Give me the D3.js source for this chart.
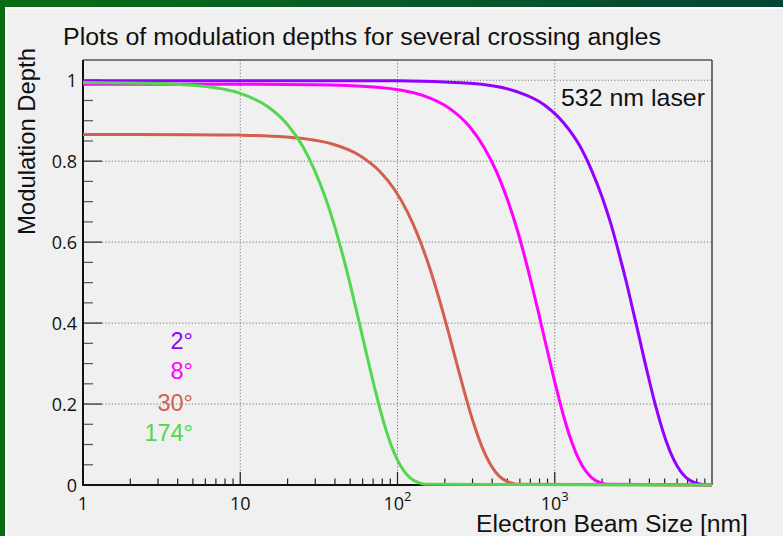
<!DOCTYPE html>
<html>
<head>
<meta charset="utf-8">
<script src="https://cdn.jsdelivr.net/npm/d3@7"></script>
<style>
  html, body { margin: 0; padding: 0; background: #ffffff; }
  svg { display: block; }
</style>
</head>
<body>
<svg id="chart" width="783" height="536"></svg>
<script>
// Modulation depth vs. electron beam size, one curve per crossing angle (532 nm laser)
const angleLabels = ["2°", "8°", "30°", "174°"];
const angleColors = ["#9400ff", "#ff00ff", "#d35f4f", "#55d64f"];

const sizes2 = [1, 100, 290, 570, 860, 1140, 1430, 1710, 2000, 2290, 2570, 2860, 3140, 3430, 3710, 4000, 4280, 4570, 5140, 5710, 6280, 6850, 7710, 8570, 10000];
const depth2 = [0.999, 0.999, 0.9925, 0.9721, 0.9389, 0.8945, 0.8404, 0.7787, 0.7117, 0.6413, 0.5701, 0.4997, 0.4320, 0.3684, 0.3097, 0.2569, 0.2101, 0.1695, 0.1057, 0.0625, 0.0349, 0.0185, 0.0064, 0.0020, 0];

const sizes8 = [1, 10, 30, 71, 143, 214, 286, 357, 429, 500, 572, 643, 714, 786, 857, 929, 1000, 1072, 1143, 1286, 1429, 1572, 1715, 1929, 2144, 10000];
const depth8 = [0.990, 0.990, 0.989, 0.9835, 0.9633, 0.9304, 0.8863, 0.8327, 0.7716, 0.7052, 0.6355, 0.5649, 0.4952, 0.4281, 0.3650, 0.3069, 0.2546, 0.2082, 0.1680, 0.1048, 0.0619, 0.0346, 0.0183, 0.0063, 0.0020, 0];

const sizes30 = [1, 5, 10, 19.3, 38.5, 57.8, 77.0, 96.3, 115.6, 134.8, 154.1, 173.3, 192.6, 211.9, 231.1, 250.4, 269.6, 288.9, 308.2, 346.7, 385.2, 423.7, 462.2, 520, 577.8, 10000];
const depth30 = [0.866, 0.8656, 0.8644, 0.8600, 0.8424, 0.8136, 0.7751, 0.7282, 0.6748, 0.6167, 0.5557, 0.4940, 0.4330, 0.3744, 0.3192, 0.2684, 0.2226, 0.1820, 0.1469, 0.0916, 0.0541, 0.0302, 0.0160, 0.0055, 0.0017, 0];

const sizes174 = [1, 2.5, 5.0, 10.0, 15.0, 20.0, 25.0, 29.9, 34.9, 39.9, 44.9, 49.9, 54.9, 59.9, 64.9, 69.9, 74.9, 79.8, 89.8, 99.8, 109.8, 119.8, 134.7, 149.7, 10000];
const depth174 = [0.9942, 0.9928, 0.9876, 0.9674, 0.9343, 0.8901, 0.8363, 0.7749, 0.7082, 0.6382, 0.5673, 0.4973, 0.4299, 0.3666, 0.3082, 0.2557, 0.2090, 0.1687, 0.1052, 0.0622, 0.0347, 0.0184, 0.0064, 0.0020, 0];

const xTickValues = [1, 10, 100, 1000];
const xTickLabels = ["1", "10", "10|2", "10|3"];
const yTickValues = [0, 0.2, 0.4, 0.6, 0.8, 1];
const yTickLabels = ["0", "0.2", "0.4", "0.6", "0.8", "1"];

const series = [
  { sizes: sizes2, depth: depth2 },
  { sizes: sizes8, depth: depth8 },
  { sizes: sizes30, depth: depth30 },
  { sizes: sizes174, depth: depth174 }
];

const svg = d3.select("#chart");
const W = 783, H = 536;

// Page frame: green banner strip on top and left, light panel inside
const defs = svg.append("defs");
const grad = defs.append("linearGradient").attr("id", "band").attr("x1", "0").attr("x2", "1");
grad.append("stop").attr("offset", "0").attr("stop-color", "#0b6e12");
grad.append("stop").attr("offset", "0.55").attr("stop-color", "#08592a");
grad.append("stop").attr("offset", "1").attr("stop-color", "#054434");
svg.append("rect").attr("width", W).attr("height", H).attr("fill", "#ffffff");
svg.append("rect").attr("width", W).attr("height", 7).attr("fill", "url(#band)");
svg.append("rect").attr("width", 5).attr("height", H).attr("fill", "#0a6a12");
svg.append("rect").attr("x", 7).attr("y", 9).attr("width", W - 7).attr("height", H - 9).attr("fill", "#f0f0f0");

const L = 83, R = 712, T = 60, B = 485;
const x = d3.scaleLog().domain([1, 10000]).range([L, R]);
const y = d3.scaleLinear().domain([0, 1.05]).range([B, T]);

const plot = svg.append("g");

// Dotted grid at the major ticks
const gridColor = "#777";
plot.selectAll("line.gx").data(xTickValues.slice(1)).enter().append("line")
  .attr("x1", d => x(d)).attr("x2", d => x(d)).attr("y1", T).attr("y2", B)
  .attr("stroke", gridColor).attr("stroke-width", 1).attr("stroke-dasharray", "1.2,2");
plot.selectAll("line.gy").data(yTickValues.slice(1)).enter().append("line")
  .attr("x1", L).attr("x2", R).attr("y1", d => y(d)).attr("y2", d => y(d))
  .attr("stroke", gridColor).attr("stroke-width", 1).attr("stroke-dasharray", "1.2,2");

// Ticks
const xMinor = [];
for (let dec = 1; dec < 10000; dec *= 10) for (let m = 2; m <= 9; m++) xMinor.push(dec * m);
plot.selectAll("line.xmin").data(xMinor).enter().append("line")
  .attr("x1", d => x(d)).attr("x2", d => x(d)).attr("y1", B).attr("y2", B - 6.5)
  .attr("stroke", "#222").attr("stroke-width", 1.2);
plot.selectAll("line.xmaj").data(xTickValues.slice(1)).enter().append("line")
  .attr("x1", d => x(d)).attr("x2", d => x(d)).attr("y1", B).attr("y2", B - 13)
  .attr("stroke", "#222").attr("stroke-width", 1.2);

const yMinor = d3.range(0, 1.0001, 0.05).filter(v => Math.abs(v * 5 - Math.round(v * 5)) > 1e-6);
plot.selectAll("line.ymin").data(yMinor).enter().append("line")
  .attr("x1", L).attr("x2", L + 10).attr("y1", d => y(d)).attr("y2", d => y(d))
  .attr("stroke", "#555").attr("stroke-width", 1.2);
plot.selectAll("line.ymaj").data(yTickValues.slice(1)).enter().append("line")
  .attr("x1", L).attr("x2", L + 19).attr("y1", d => y(d)).attr("y2", d => y(d))
  .attr("stroke", "#444").attr("stroke-width", 1.4);

// Curves (clipped to the frame)
defs.append("clipPath").attr("id", "clip").append("rect")
  .attr("x", L).attr("y", T).attr("width", R - L).attr("height", B - T + 2);
const line = d3.line()
  .x(d => x(d[0])).y(d => y(d[1]))
  .curve(d3.curveMonotoneX);
const curves = plot.append("g").attr("clip-path", "url(#clip)");
series.forEach((s, i) => {
  const pts = s.sizes.map((v, j) => [v, s.depth[j]]);
  curves.append("path").attr("d", line(pts))
    .attr("fill", "none").attr("stroke", angleColors[i]).attr("stroke-width", 3)
    .attr("stroke-linejoin", "round");
});

// Frame
plot.append("line").attr("x1", L).attr("x2", R).attr("y1", T).attr("y2", T).attr("stroke", "#555").attr("stroke-width", 1.5);
plot.append("line").attr("x1", R).attr("x2", R).attr("y1", T).attr("y2", B).attr("stroke", "#444").attr("stroke-width", 1.5);
plot.append("line").attr("x1", L).attr("x2", L).attr("y1", T).attr("y2", B + 1).attr("stroke", "#111").attr("stroke-width", 2);
plot.append("line").attr("x1", L).attr("x2", R).attr("y1", B).attr("y2", B).attr("stroke", "#111").attr("stroke-width", 2)
  .lower();

// The green tail runs over the axis baseline
curves.raise();

// Tick labels
const tickFont = "'Open Sans', 'DejaVu Sans', sans-serif";
const yl = svg.append("g").attr("font-family", tickFont).attr("font-size", 18).attr("fill", "#111");
yl.selectAll("text").data(yTickValues).enter().append("text")
  .attr("x", 77).attr("y", d => y(d) + 6.5).attr("text-anchor", "end")
  .text((d, i) => yTickLabels[i]);

const xl = svg.append("g").attr("font-family", tickFont).attr("font-size", 18).attr("fill", "#111");
xTickValues.forEach((v, i) => {
  const parts = xTickLabels[i].split("|");
  const t = xl.append("text").attr("x", x(v)).attr("y", 510).attr("text-anchor", "middle");
  t.append("tspan").text(parts[0]);
  if (parts[1]) {
    t.append("tspan").attr("dy", -9).attr("font-size", 13).text(parts[1]);
  }
});

// Titles
const txtFont = "'Liberation Sans', Arial, sans-serif";
svg.append("text").attr("x", 63).attr("y", 45).attr("font-family", txtFont).attr("font-size", 23.5)
  .attr("fill", "#111").attr("textLength", 598).attr("lengthAdjust", "spacingAndGlyphs")
  .text("Plots of modulation depths for several crossing angles");
svg.append("text").attr("x", 476).attr("y", 532)
  .attr("font-family", txtFont).attr("font-size", 23).attr("fill", "#111")
  .attr("textLength", 272).attr("lengthAdjust", "spacingAndGlyphs")
  .text("Electron Beam Size [nm]");
svg.append("text").attr("transform", "translate(35,141.5) rotate(-90)").attr("text-anchor", "middle")
  .attr("font-family", txtFont).attr("font-size", 24).attr("fill", "#111")
  .attr("textLength", 187).attr("lengthAdjust", "spacingAndGlyphs")
  .text("Modulation Depth");
svg.append("text").attr("x", 561).attr("y", 106).attr("font-family", txtFont).attr("font-size", 24)
  .attr("fill", "#111").attr("textLength", 144).attr("lengthAdjust", "spacingAndGlyphs")
  .text("532 nm laser");

// Angle legend
const legY = [349, 379, 411, 441];
angleLabels.forEach((lab, i) => {
  svg.append("text").attr("x", 193).attr("y", legY[i]).attr("text-anchor", "end")
    .attr("font-family", txtFont).attr("font-size", 23.5).attr("fill", angleColors[i])
    .text(lab);
});
</script>
</body>
</html>
